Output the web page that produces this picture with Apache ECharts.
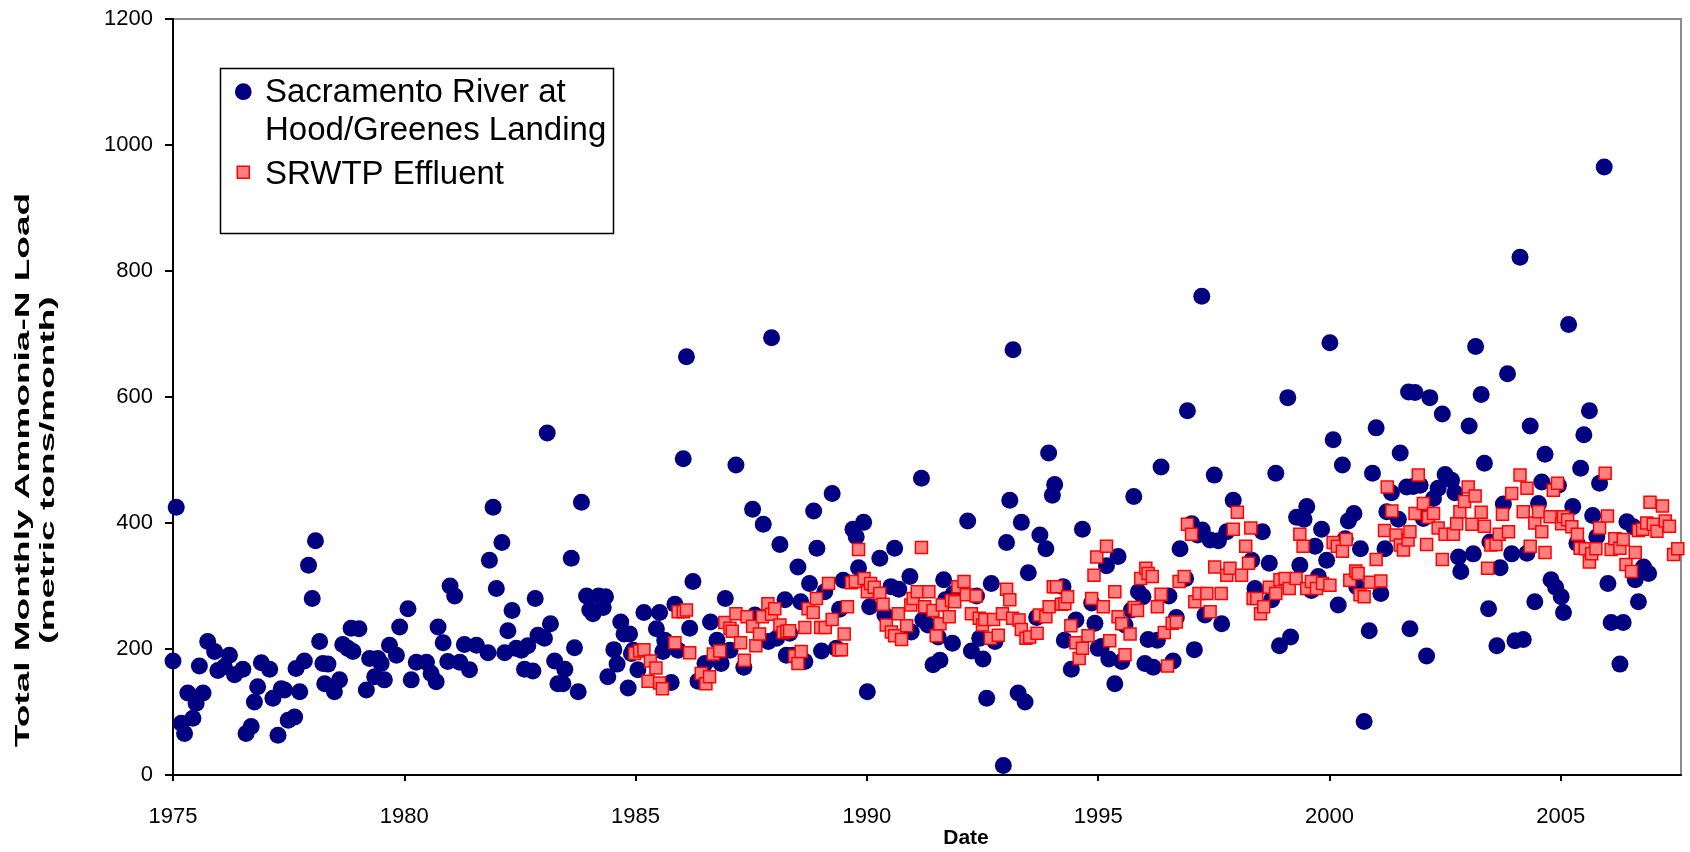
<!DOCTYPE html>
<html>
<head>
<meta charset="utf-8">
<title>Total Monthly Ammonia-N Load</title>
<script src="https://cdn.jsdelivr.net/npm/echarts@6/dist/echarts.min.js"></script>
<style>
  html, body { margin: 0; padding: 0; background: #ffffff; }
  #chart { width: 1690px; height: 852px; }
</style>
</head>
<body>
<div id="chart"></div>
<script>
// Sacramento River at Hood/Greenes Landing: monthly ammonia-N load (metric tons/month)
const riverDates = [
  1975.00,1975.07,1975.18,1975.25,1975.32,1975.43,1975.50,1975.57,1975.65,1975.75,1975.90,1975.97,
  1976.11,1976.22,1976.33,1976.51,1976.58,1976.69,1976.76,1976.83,1976.91,
  1977.09,1977.16,1977.27,1977.34,1977.41,1977.49,1977.63,1977.66,1977.74,1977.84,1977.93,
  1978.01,1978.08,1978.17,1978.24,1978.28,1978.35,1978.49,1978.60,1978.67,1978.78,1978.85,1978.89,
  1979.02,1979.18,1979.25,1979.36,1979.43,1979.50,1979.57,1979.68,1979.83,1979.90,
  1980.08,1980.15,1980.26,1980.48,1980.58,1980.69,1980.73,1980.84,1980.94,1980.99,
  1981.09,1981.20,1981.30,1981.41,1981.56,1981.81,1981.84,1981.92,1981.99,
  1982.11,1982.17,1982.24,1982.33,1982.42,1982.53,1982.60,1982.67,1982.78,1982.83,1982.89,
  1983.03,1983.09,1983.16,1983.25,1983.32,1983.43,1983.47,1983.61,1983.68,1983.76,1983.83,1983.94,
  1984.01,1984.08,1984.20,1984.30,1984.35,1984.40,1984.53,1984.60,1984.68,1984.75,1984.84,1984.87,1984.91,1984.95,
  1985.05,1985.18,1985.45,1985.52,1985.59,1985.63,1985.77,1985.85,1985.92,
  1986.03,1986.10,1986.17,1986.24,1986.35,1986.50,1986.62,1986.76,1986.85,1986.94,
  1987.04,1987.17,1987.34,1987.53,1987.58,1987.76,1987.87,1987.94,
  1988.05,1988.12,1988.23,1988.26,1988.33,1988.40,1988.51,1988.57,1988.66,1988.76,1988.85,1988.92,
  1989.02,1989.09,1989.25,1989.34,1989.41,1989.49,1989.70,1989.77,1989.82,1989.93,
  1990.01,1990.06,1990.28,1990.39,1990.52,1990.60,1990.69,1990.93,1990.96,
  1991.18,1991.21,1991.32,1991.43,1991.54,1991.58,1991.66,1991.70,1991.85,1991.87,
  1992.18,1992.26,1992.37,1992.44,1992.51,1992.59,1992.69,1992.77,1992.95,
  1993.02,1993.09,1993.16,1993.27,1993.34,1993.42,1993.49,1993.67,1993.74,1993.87,1993.93,
  1994.01,1994.06,1994.24,1994.27,1994.42,1994.52,1994.66,1994.86,1994.93,
  1995.00,1995.07,1995.18,1995.23,1995.36,1995.43,1995.51,1995.58,1995.72,1995.77,1995.87,1995.97,
  1996.01,1996.08,1996.19,1996.28,1996.36,1996.53,1996.62,1996.69,1996.77,1996.89,1996.93,
  1997.02,1997.08,1997.15,1997.24,1997.25,1997.31,1997.42,1997.51,1997.60,1997.67,1997.78,1997.92,
  1998.32,1998.39,1998.55,1998.70,1998.75,1998.84,1998.92,
  1999.10,1999.16,1999.29,1999.36,1999.45,1999.51,1999.61,1999.69,1999.76,1999.83,1999.94,
  2000.01,2000.08,2000.19,2000.28,2000.34,2000.41,2000.53,2000.59,2000.67,2000.75,2000.86,2000.93,
  2001.01,2001.11,2001.20,2001.24,2001.34,2001.49,2001.53,2001.67,2001.71,2001.74,2001.81,2001.85,2001.96,
  2002.03,2002.10,2002.17,2002.25,2002.35,2002.44,2002.50,2002.64,2002.71,2002.79,2002.84,
  2003.02,2003.11,2003.16,2003.28,2003.35,2003.44,2003.47,2003.62,2003.69,2003.76,2003.85,2003.94,
  2004.01,2004.12,2004.19,2004.27,2004.34,2004.44,2004.52,2004.59,2004.66,2004.79,2004.89,2004.95,
  2005.01,2005.06,2005.17,2005.26,2005.35,2005.43,2005.50,2005.62,2005.69,2005.78,2005.84,2005.94,
  2006.02,2006.09,2006.28,2006.35,2006.43,2006.57,2006.61,2006.68,2006.79,2006.90
];
const riverLoads = [
  181,425,82,66,130,90,114,173,130,212,196,166,
  172,190,159,168,66,77,116,140,178,
  168,122,63,137,135,87,92,169,132,181,333,
  280,372,212,177,145,176,132,151,207,201,233,196,
  232,135,185,156,185,177,151,206,190,235,
  264,151,179,179,161,148,235,210,180,300,
  284,179,207,167,206,194,341,425,296,
  369,194,229,261,201,198,168,205,165,280,222,
  217,543,240,181,145,145,168,344,202,132,433,284,
  262,256,284,266,283,156,199,176,243,224,138,224,193,198,
  167,258,232,258,196,214,147,271,198,
  502,664,233,307,149,177,243,214,177,280,
  198,492,171,422,254,398,212,694,
  217,366,278,190,225,190,330,275,180,304,419,360,
  197,291,447,201,263,309,390,378,329,401,
  132,267,344,254,299,360,295,315,227,
  471,246,238,175,219,182,310,278,209,288,
  403,197,284,217,184,122,304,212,15,
  369,436,675,130,401,116,321,250,381,359,511,
  444,461,299,214,168,246,390,273,241,
  201,204,332,184,145,347,180,238,262,442,291,283,
  177,215,171,214,489,284,181,250,359,312,578,
  399,199,381,760,389,254,373,476,372,240,386,436,
  341,296,386,336,278,479,205,
  599,219,409,333,406,426,293,363,315,390,341,
  686,532,270,492,375,403,415,299,359,85,229,479,
  551,288,359,418,448,406,511,457,608,232,458,607,460,
  407,189,599,439,455,573,477,468,448,346,323,
  554,351,680,604,495,264,370,205,329,430,637,351,
  213,822,215,352,554,275,431,465,509,310,298,460,
  283,258,715,426,368,487,540,578,412,378,463,965,
  304,242,176,242,402,394,310,275,330,320
];

// SRWTP effluent: monthly ammonia-N load (metric tons/month)
const effluentDates = [
  1984.98,1985.09,1985.18,1985.27,1985.32,1985.44,1985.52,1985.58,1985.85,1985.92,
  1986.03,1986.10,1986.17,1986.42,1986.52,1986.60,1986.68,1986.82,1986.93,
  1987.04,1987.09,1987.17,1987.27,1987.35,1987.41,1987.53,1987.60,1987.68,1987.74,1987.86,1987.94,
  1988.01,1988.12,1988.19,1988.27,1988.33,1988.44,1988.51,1988.58,1988.66,1988.73,1988.84,1988.91,
  1989.00,1989.10,1989.17,1989.25,1989.39,1989.45,1989.51,1989.58,1989.67,1989.75,1989.82,1989.94,
  1990.01,1990.08,1990.16,1990.28,1990.35,1990.42,1990.53,1990.60,1990.68,1990.75,1990.86,1990.95,
  1991.00,1991.09,1991.18,1991.25,1991.34,1991.43,1991.50,1991.58,1991.63,1991.78,1991.83,1991.90,1991.97,
  1992.10,1992.15,1992.26,1992.36,1992.43,1992.50,1992.55,1992.67,1992.74,1992.84,1992.93,
  1993.02,1993.09,1993.15,1993.29,1993.34,1993.44,1993.52,1993.68,1993.73,1993.87,1993.94,
  1994.03,1994.10,1994.21,1994.28,1994.34,1994.41,1994.52,1994.59,1994.66,1994.78,1994.86,1994.91,1994.97,
  1995.11,1995.18,1995.25,1995.36,1995.43,1995.51,1995.58,1995.69,1995.78,1995.85,1995.92,
  1996.03,1996.08,1996.17,1996.28,1996.36,1996.43,1996.50,1996.60,1996.69,1996.75,1996.86,1996.93,
  1997.02,1997.09,1997.18,1997.35,1997.42,1997.52,1997.66,1997.78,1997.85,1997.92,
  1998.01,1998.10,1998.19,1998.25,1998.30,1998.35,1998.43,1998.51,1998.58,1998.70,1998.84,1998.93,
  1999.04,1999.13,1999.28,1999.36,1999.43,1999.51,1999.61,1999.72,1999.85,
  2000.01,2000.08,2000.17,2000.28,2000.36,2000.44,2000.57,2000.62,2000.66,2000.75,2000.88,
  2001.01,2001.11,2001.19,2001.25,2001.35,2001.44,2001.53,2001.60,2001.70,2001.74,2001.85,2001.92,
  2002.03,2002.10,2002.14,2002.25,2002.35,2002.44,2002.50,2002.68,2002.75,2002.82,2002.92,
  2003.00,2003.08,2003.15,2003.28,2003.35,2003.42,2003.49,2003.60,2003.67,2003.74,2003.87,2003.94,
  2004.12,2004.19,2004.27,2004.34,2004.44,2004.52,2004.59,2004.66,2004.77,2004.84,2004.93,
  2005.02,2005.06,2005.15,2005.24,2005.36,2005.42,2005.53,2005.62,2005.67,2005.76,2005.84,2005.96,
  2006.01,2006.09,2006.17,2006.28,2006.35,2006.41,2006.53,2006.61,2006.68,2006.77,2006.86,2006.93,
  2007.00,2007.08,2007.20,2007.26,2007.35,2007.44,2007.53
];
const effluentLoads = [
  193,197,199,149,181,170,146,137,210,259,
  259,262,194,161,145,156,192,197,242,
  233,228,256,210,182,251,236,205,224,251,272,255,
  264,238,226,228,229,189,177,196,234,264,258,280,
  234,234,304,247,199,199,224,267,305,307,358,312,
  291,304,298,288,271,238,227,221,256,215,237,270,
  280,291,361,267,291,261,221,240,270,251,277,275,299,
  307,286,256,284,249,238,247,217,247,222,256,
  295,278,249,246,231,217,219,225,254,251,267,
  299,299,271,272,283,237,210,185,201,221,280,317,346,
  267,363,213,291,251,240,191,224,266,261,312,
  328,320,315,267,287,226,173,241,243,307,315,398,
  382,275,288,288,259,330,288,317,328,390,
  417,317,363,336,392,280,280,256,267,298,288,310,
  312,296,312,382,363,296,307,296,304,
  301,369,363,355,374,309,324,320,286,283,306,
  342,308,388,457,419,381,365,357,373,386,415,476,
  431,366,409,415,392,342,382,382,399,418,434,
  457,398,443,417,395,328,365,366,382,414,386,447,
  476,418,455,363,400,418,386,353,410,452,463,
  399,410,405,394,382,360,359,338,351,359,392,479,
  411,358,375,360,374,334,323,353,388,390,400,433,
  398,387,427,403,395,350,359
];

// axis tick values
const yTicks = [0, 200, 400, 600, 800, 1000, 1200];
const xTicks = [1975, 1980, 1985, 1990, 1995, 2000, 2005];

const riverSeriesName = 'Sacramento River at Hood/Greenes Landing';
const effluentSeriesName = 'SRWTP Effluent';

const pairs = (xs, ys) => xs.map((x, i) => [x, ys[i]]);

const FONT = '"Liberation Sans", Arial, sans-serif';

const chart = echarts.init(document.getElementById('chart'), null, { renderer: 'canvas' });

// rotated, lengthwise-stretched y-axis title line
const yTitleLine = (text, x) => ({
  type: 'text',
  x: x, y: 470,
  rotation: Math.PI / 2,
  scaleX: 1.85,
  style: {
    text: text,
    font: 'bold 20px ' + FONT,
    fill: '#000',
    textAlign: 'center',
    textVerticalAlign: 'middle'
  }
});

const legendText = (text, y) => ({
  type: 'text',
  x: 45, y: y,
  style: { text: text, font: '33px ' + FONT, fill: '#000', textVerticalAlign: 'middle' }
});

chart.setOption({
  backgroundColor: '#ffffff',
  animation: false,
  textStyle: { fontFamily: FONT, color: '#000' },
  grid: {
    left: 173, right: 9, top: 19, bottom: 77,
    outerBoundsMode: 'none',
    containLabel: false,
    show: true,
    borderColor: '#8c8c8c',
    borderWidth: 2,
    backgroundColor: '#ffffff'
  },
  xAxis: {
    type: 'value',
    min: xTicks[0],
    max: 2007.6,
    interval: 5,
    axisLine: { show: true, onZero: false, lineStyle: { color: '#000', width: 2 } },
    axisTick: { show: true, length: 6, lineStyle: { color: '#000', width: 2 } },
    axisLabel: {
      fontSize: 22, color: '#000', margin: 31, fontFamily: FONT,
      showMaxLabel: false,
      formatter: v => (xTicks.indexOf(v) >= 0 ? String(v) : '')
    },
    splitLine: { show: false },
    name: 'Date',
    nameLocation: 'middle',
    nameGap: 53,
    nameMoveOverlap: false,
    nameTextStyle: { fontSize: 21, fontWeight: 'bold', color: '#000', fontFamily: FONT, padding: [0, 0, 0, 78] }
  },
  yAxis: {
    type: 'value',
    min: yTicks[0],
    max: yTicks[yTicks.length - 1],
    interval: 200,
    axisLine: { show: true, onZero: false, lineStyle: { color: '#000', width: 2 } },
    axisTick: { show: true, length: 8, lineStyle: { color: '#000', width: 2 } },
    axisLabel: {
      fontSize: 22, color: '#000', margin: 20, fontFamily: FONT,
      padding: [5, 0, 0, 0],
      formatter: v => String(v)
    },
    splitLine: { show: false }
  },
  graphic: [
    yTitleLine('Total Monthly Ammonia-N Load', 23.5),
    yTitleLine('(metric tons/month)', 48.5),
    // legend box
    {
      type: 'group',
      x: 220, y: 68,
      z: 100,
      children: [
        {
          type: 'rect',
          shape: { x: 0.5, y: 0.5, width: 393, height: 165 },
          style: { fill: '#ffffff', stroke: '#000000', lineWidth: 1.5 }
        },
        {
          type: 'circle',
          shape: { cx: 23.3, cy: 23.7, r: 8.4 },
          style: { fill: '#000080' }
        },
        {
          type: 'rect',
          shape: { x: 17.3, y: 98.3, width: 12, height: 12 },
          style: { fill: '#FF8080', stroke: '#FF0000', lineWidth: 1.5 }
        },
        legendText('Sacramento River at', 25),
        legendText('Hood/Greenes Landing', 63.2),
        legendText('SRWTP Effluent', 106.5)
      ]
    }
  ],
  series: [
    {
      name: riverSeriesName,
      type: 'scatter',
      symbol: 'circle',
      symbolSize: 17,
      itemStyle: { color: '#000080', opacity: 1 },
      data: pairs(riverDates, riverLoads),
      z: 2
    },
    {
      name: effluentSeriesName,
      type: 'scatter',
      symbol: 'rect',
      symbolSize: 12,
      itemStyle: { color: '#FF8080', borderColor: '#FF0000', borderWidth: 1.5, opacity: 1 },
      data: pairs(effluentDates, effluentLoads),
      z: 3
    }
  ]
});
</script>
</body>
</html>
